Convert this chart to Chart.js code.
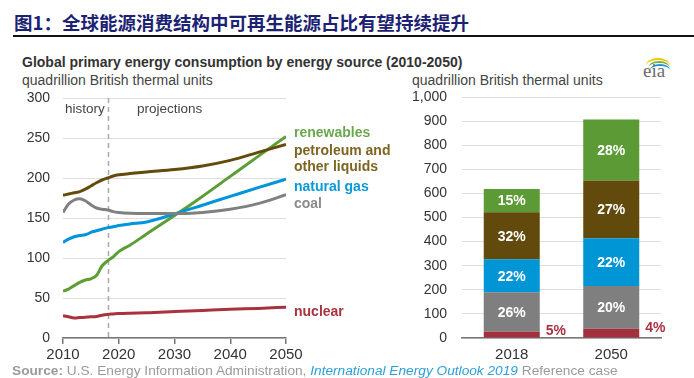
<!DOCTYPE html>
<html>
<head>
<meta charset="utf-8">
<script src="https://cdn.jsdelivr.net/npm/chart.js@4.4.1/dist/chart.umd.min.js"></script>
<style>
  html, body { margin:0; padding:0; background:#fff; }
  #wrap { position:relative; width:694px; height:378px; overflow:hidden; background:#fff; font-family:"Liberation Sans", Arial, sans-serif; }
  canvas { position:absolute; left:0; top:0; }
  .t { position:absolute; white-space:nowrap; line-height:16px; }
</style>
</head>
<body>
<div id="wrap">
  <div class="t" style="left:14px;top:11px;line-height:22px;font-family:'Noto Sans CJK SC',sans-serif;font-weight:700;font-size:18.5px;color:#1c2273;">图1：全球能源消费结构中可再生能源占比有望持续提升</div>
  <div style="position:absolute;left:13px;top:35px;width:681px;height:2px;background:#111;"></div>

  <div class="t" style="left:22px;top:54px;font-size:14px;font-weight:700;color:#333;">Global primary energy consumption by energy source (2010-2050)</div>
  <div class="t" style="left:22px;top:72px;font-size:14px;color:#444;">quadrillion British thermal units</div>
  <div class="t" style="left:412px;top:72px;font-size:14px;color:#444;">quadrillion British thermal units</div>

  <!-- eia logo -->
  <div style="position:absolute;left:646px;top:58px;width:24px;height:14px;border-radius:50%;border-top:2px solid #f2c500;"></div>
  <div style="position:absolute;left:648px;top:61px;width:22px;height:12px;border-radius:50%;border-top:2px solid #6db33f;"></div>
  <div style="position:absolute;left:650px;top:64px;width:20px;height:10px;border-radius:50%;border-top:2px solid #1e90d6;"></div>
  <div class="t" style="left:643px;top:63px;font-family:'Liberation Serif',serif;font-size:19px;color:#6b6b6b;">eia</div>

  <canvas id="c1" width="694" height="378"></canvas>
  <canvas id="c2" width="694" height="378"></canvas>

  <div class="t" style="left:65px;top:101px;font-size:13.5px;color:#444;">history</div>
  <div class="t" style="left:137px;top:101px;font-size:13.5px;color:#444;">projections</div>

  <div class="t" style="left:294px;top:124px;font-size:14px;font-weight:700;color:#6aa84f;">renewables</div>
  <div class="t" style="left:294px;top:142px;font-size:14px;font-weight:700;color:#7f6421;">petroleum and<br>other liquids</div>
  <div class="t" style="left:294px;top:178px;font-size:14px;font-weight:700;color:#0a98d8;">natural gas</div>
  <div class="t" style="left:294px;top:195px;font-size:14px;font-weight:700;color:#8a8a8a;">coal</div>
  <div class="t" style="left:294px;top:303px;font-size:14px;font-weight:700;color:#a8333f;">nuclear</div>

  <div class="t" style="left:12px;top:363px;font-size:13.7px;color:#9a9a9a;"><b>Source:</b> U.S. Energy Information Administration, <i style="color:#2b9fd8;">International Energy Outlook 2019</i> Reference case</div>
</div>

<script>
// ---------- data ----------
const years       = [2010,2011,2012,2013,2014,2015,2016,2017,2018,2019,2020,2022,2025,2030,2035,2040,2045,2050];
const renewables  = [58.5,61,65.5,69.5,72.5,74,78,90,96.5,101.5,108,116,130,153,177,202,227,252];
const petroleum   = [178.5,180,181.5,183,186,190,194,197.5,200,202.5,204,205.5,207.5,210.5,215,222,232,242];
const naturalGas  = [119.5,123.5,126.5,128,129,132,134,136,138,139,140.5,142.5,145,155,166,177,188,198.5];
const coal        = [157,167.5,172.5,174,171.5,166.5,162.5,161,160,158,157,156,155.5,155.5,157,161,168,179];
const nuclear     = [28,26.5,25,25.5,26,26.5,27,28.5,29.5,30,30.5,31,31.5,33,34.5,36,37,38.5];

const barYears      = ['2018','2050'];
const barNuclear    = [26,38];
const barCoal       = [164,178];
const barGas        = [137,198];
const barPetroleum  = [195,240];
const barRenewables = [96,253];
const pctNuclear    = ['5%','4%'];
const pctCoal       = ['26%','20%'];
const pctGas        = ['22%','22%'];
const pctPetroleum  = ['32%','27%'];
const pctRenewables = ['15%','28%'];

const lineTicks = [2010,2020,2030,2040,2050];
const projectionStart = 2018;

// ---------- styles ----------
const C = { ren:'#5c9e34', pet:'#634b0c', gas:'#0095d8', coal:'#808080', nuc:'#a8333f' };
const FONT = "'Liberation Sans', Arial, sans-serif";

const pts = arr => years.map((y,i)=>({x:y, y:arr[i]}));
const lineDs = (data,color) => ({ data: pts(data), borderColor: color, borderWidth: 3, pointRadius: 0,
  tension: 0.4, cubicInterpolationMode: 'monotone', fill: false });

const dashPlugin = {
  id: 'dash',
  beforeDatasetsDraw(chart) {
    const {ctx, chartArea, scales} = chart;
    const x = Math.round(scales.x.getPixelForValue(projectionStart)) + 0.5;
    ctx.save();
    ctx.strokeStyle = '#aaaaaa'; ctx.lineWidth = 1.5; ctx.setLineDash([5,4]);
    ctx.beginPath(); ctx.moveTo(x, chartArea.top); ctx.lineTo(x, chartArea.bottom + 3); ctx.stroke();
    ctx.restore();
  }
};

new Chart(document.getElementById('c1'), {
  type: 'line',
  data: { datasets: [
    lineDs(nuclear, C.nuc), lineDs(coal, C.coal), lineDs(naturalGas, C.gas),
    lineDs(petroleum, C.pet), lineDs(renewables, C.ren)
  ]},
  options: {
    responsive: false, animation: false, devicePixelRatio: 1,
    layout: { padding: { left: 0, right: 408, top: 98, bottom: 0 } },
    plugins: { legend: { display: false }, tooltip: { enabled: false } },
    scales: {
      x: { type: 'linear', min: 2010, max: 2050,
        afterBuildTicks: s => { s.ticks = lineTicks.map(v => ({value: v})); },
        afterFit: s => { s.height = 40; },
        ticks: { color: '#333', font: { family: FONT, size: 15 }, padding: 2, maxRotation: 0, callback: v => String(v) },
        grid: { display: true, drawOnChartArea: false, drawTicks: true, tickLength: 6, color: '#777', lineWidth: 1.5 },
        border: { display: true, color: '#777', width: 1.5 } },
      y: { min: 0, max: 300,
        afterFit: s => { s.width = 63; },
        ticks: { stepSize: 50, color: '#333', font: { family: FONT, size: 14 }, padding: 13 },
        grid: { color: '#dedede', drawTicks: false, lineWidth: 1 },
        border: { display: false } }
    }
  },
  plugins: [dashPlugin]
});

const pctSets = [pctNuclear, pctCoal, pctGas, pctPetroleum, pctRenewables];
const pctPlugin = {
  id: 'pct',
  afterDatasetsDraw(chart) {
    const {ctx} = chart;
    ctx.save();
    ctx.font = "bold 14px " + FONT;
    chart.data.datasets.forEach((ds, i) => {
      const meta = chart.getDatasetMeta(i);
      meta.data.forEach((bar, j) => {
        const txt = pctSets[i][j];
        if (i === 0) {
          ctx.fillStyle = C.nuc; ctx.textAlign = 'left'; ctx.textBaseline = 'middle';
          ctx.fillText(txt, bar.x + bar.width/2 + 6, bar.y - 1);
        } else {
          ctx.fillStyle = '#ffffff'; ctx.textAlign = 'center'; ctx.textBaseline = 'middle';
          ctx.fillText(txt, bar.x, (bar.y + bar.base)/2 + 1);
        }
      });
    });
    ctx.restore();
  }
};

const barDs = (data,color) => ({ data, backgroundColor: color, borderWidth: 0, barPercentage: 0.563, categoryPercentage: 1 });

new Chart(document.getElementById('c2'), {
  type: 'bar',
  data: { labels: barYears, datasets: [
    barDs(barNuclear, '#a3303d'), barDs(barCoal, '#7f7f7f'), barDs(barGas, '#0095d5'),
    barDs(barPetroleum, '#614a0b'), barDs(barRenewables, '#5c9a35')
  ]},
  options: {
    responsive: false, animation: false, devicePixelRatio: 1,
    layout: { padding: { left: 0, right: 33, top: 97, bottom: 0 } },
    plugins: { legend: { display: false }, tooltip: { enabled: false } },
    scales: {
      x: { stacked: true,
        afterFit: s => { s.height = 40; },
        ticks: { color: '#333', font: { family: FONT, size: 15 }, padding: 8 },
        grid: { display: false, drawTicks: false },
        border: { display: true, color: '#777', width: 1.5 } },
      y: { stacked: true, min: 0, max: 1000,
        afterFit: s => { s.width = 462; },
        ticks: { stepSize: 100, color: '#333', font: { family: FONT, size: 14 }, padding: 15,
          callback: v => v.toLocaleString('en-US') },
        grid: { color: '#dedede', drawTicks: false, lineWidth: 1 },
        border: { display: false } }
    }
  },
  plugins: [pctPlugin]
});
</script>
</body>
</html>
